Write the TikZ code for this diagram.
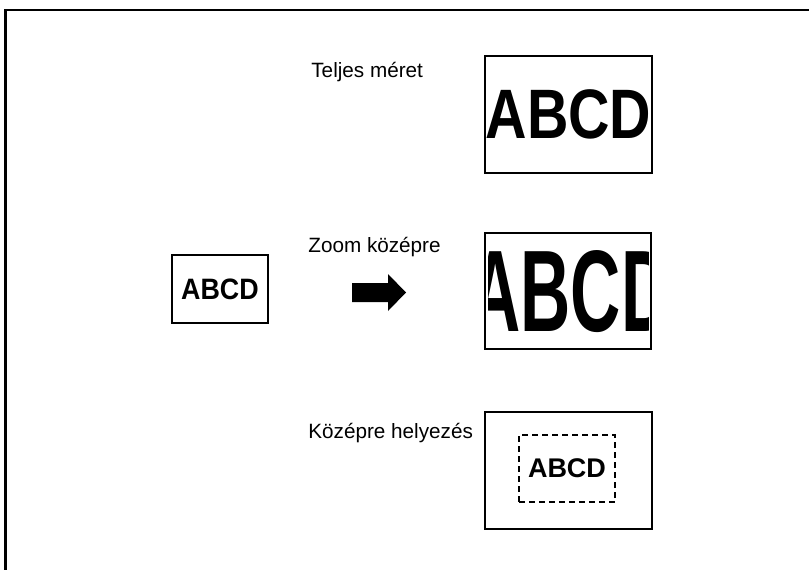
\documentclass[tikz,border=0pt]{standalone}
\usepackage{fontspec}
\setmainfont{Liberation Sans}
\usetikzlibrary{positioning}
\tikzset{every picture/.style={line width=0.75pt}}
\tikzset{
  pagebox/.style={draw, line width=1.6pt, minimum width=167pt, minimum height=117pt, inner sep=0pt},
  imagebox/.style={draw, dashed, dash pattern=on 6pt off 4pt, line width=1.5pt, minimum width=96pt, minimum height=67pt, inner sep=0pt},
  caption/.style={anchor=base west, inner sep=0pt, font=\fontsize{20.7}{23}\selectfont},
  letters/.style={inner sep=0pt, font=\bfseries\fontsize{#1}{#1}\selectfont},
}

\begin{document}
\begin{tikzpicture}[x=1pt, y=-1pt]
\useasboundingbox (0,0) rectangle (809,570);
% frame, open at right and bottom
\draw[line width=2.2pt] (5.5,570) -- (5.5,10) -- (809,10);

% original page
\node[pagebox, minimum width=96pt, minimum height=68pt] (orig) at (220,289) {};
\node[letters=29.5, xscale=0.91] (origtxt) at (orig.center) {ABCD};

% block arrow
\fill (352,283) -- (388,283) -- (388,274) -- (406,292.5) -- (388,311) -- (388,302) -- (352,302) -- cycle;

% Teljes méret
\node[caption] (fulllbl) at (311,77) {Teljes méret};
\node[pagebox] (full) at (568.5,114.5) {};
\node[letters=70, xscale=0.82] (fulltxt) at (full.center) {ABCD};

% Zoom középre
\node[caption] (zoomlbl) at (308,252) {Zoom középre};
\node[pagebox, minimum width=166pt, minimum height=116pt] (zoom) at (568,291) {};
\begin{scope}
  \clip (488,236) rectangle (648,346);
  \node[letters=116, xscale=0.6] (zoomtxt) at (571,291.5) {ABCD};
\end{scope}

% Középre helyezés
\node[caption] (centlbl) at (308,438) {Középre helyezés};
\node[pagebox] (cent) at (568.5,470.5) {};
\node[imagebox] (image) at (567,468.5) {};
\node[letters=27] (centtxt) at (image.center) {ABCD};
\end{tikzpicture}
\end{document}
